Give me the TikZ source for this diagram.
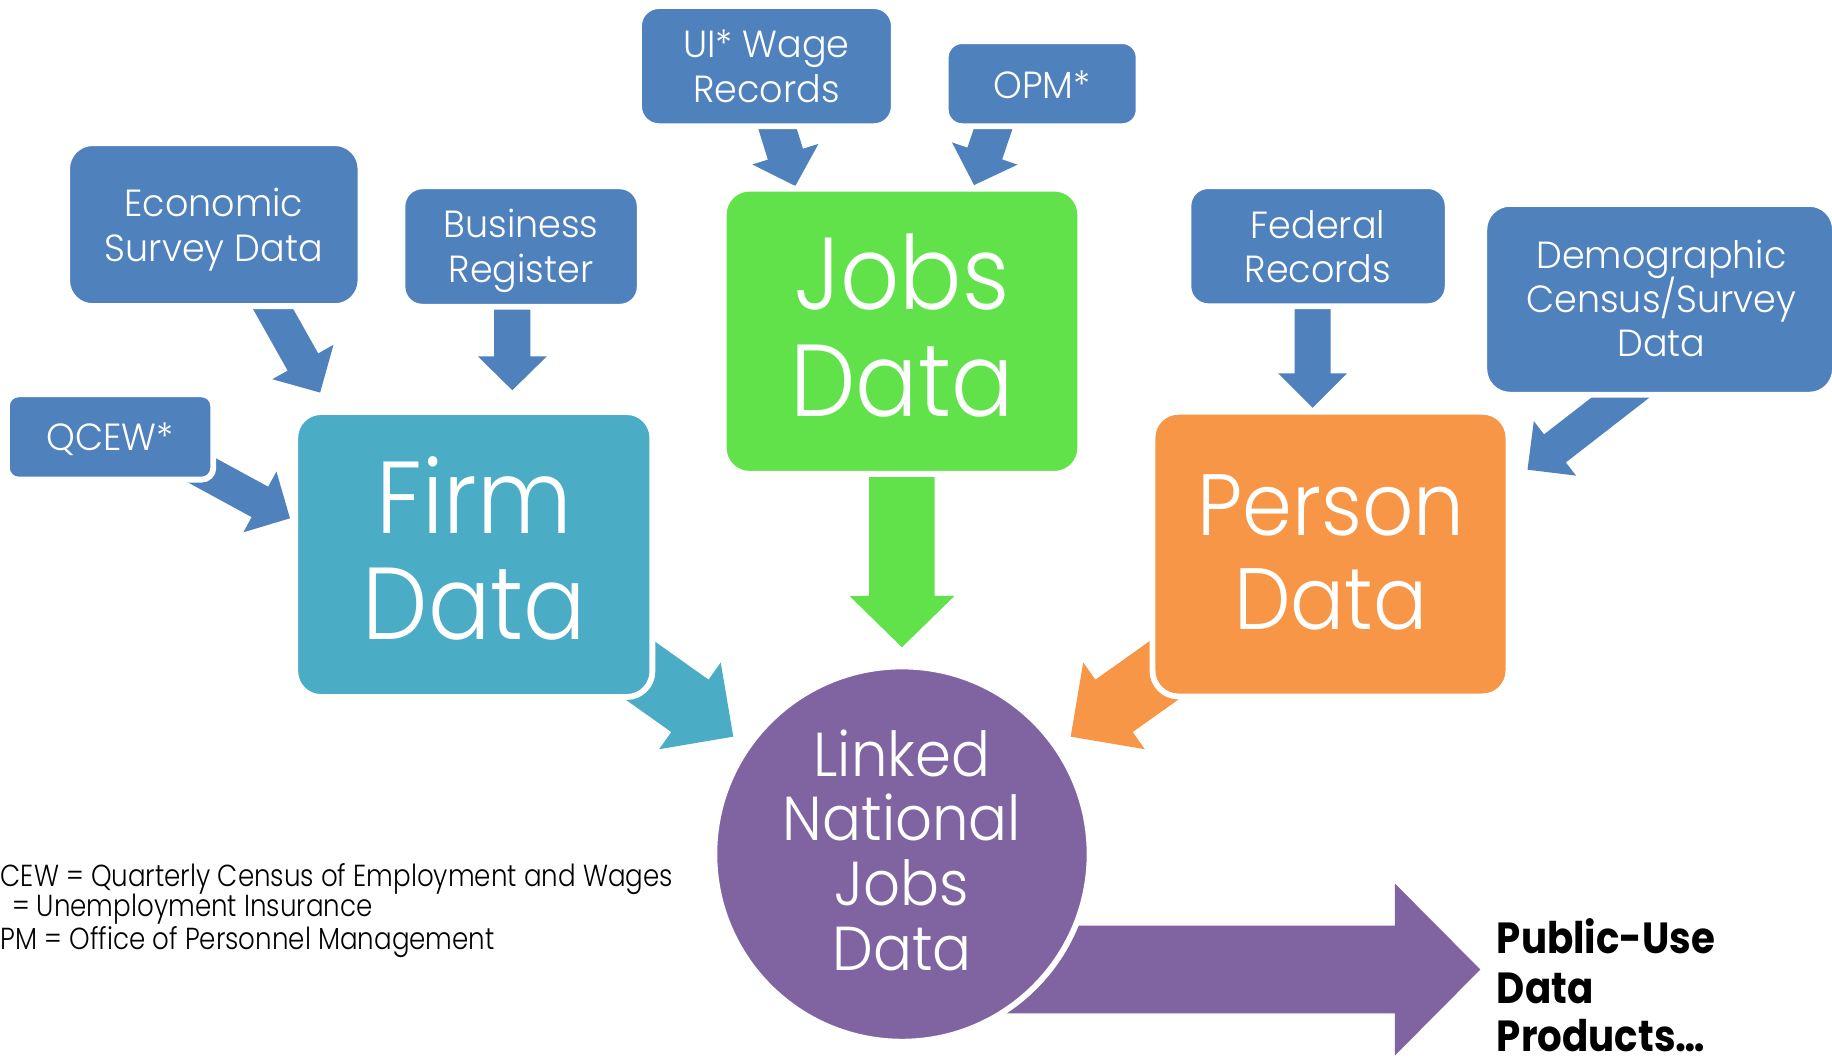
\documentclass[tikz,border=0pt]{standalone}
\usepackage{fontspec}
\setmainfont{Poppins Light}[BoldFont=Poppins Bold]
\newfontfamily\popbig{Poppins Light}[FakeStretch=0.905]
\newfontfamily\popper{Poppins Light}[FakeStretch=0.92]
\newfontfamily\poplink{Poppins Light}[FakeStretch=0.93]
\newfontfamily\popsmall{Poppins Light}[FakeStretch=0.965]
\newfontfamily\popnote{Poppins Light}[FakeStretch=0.86]
\newfontfamily\popbold{Poppins Bold}[FakeStretch=0.89]
\usetikzlibrary{calc}
\definecolor{cblue}{RGB}{79,129,189}
\definecolor{cteal}{RGB}{75,172,198}
\definecolor{cgreen}{RGB}{98,226,74}
\definecolor{corange}{RGB}{247,150,70}
\definecolor{cpurple}{RGB}{128,100,162}
\newcommand{\myfbig}{\popbig\fontsize{24.9pt}{25pt}\selectfont}
\newcommand{\myfper}{\popper\fontsize{21.2pt}{21pt}\selectfont}
\newcommand{\myflink}{\poplink\fontsize{15.1pt}{15pt}\selectfont}
\newcommand{\myfsmall}{\popsmall\fontsize{9.2pt}{9pt}\selectfont}
\newcommand{\myfpub}{\popbold\fontsize{10.6pt}{10pt}\selectfont}
\newcommand{\myfnote}{\popnote\fontsize{7.4pt}{7pt}\selectfont}
% block arrow: #1 from, #2 to, #3 half shaft, #4 half head, #5 head length, #6 colour
\newcommand{\barw}[6]{%
  \coordinate (bh) at ($(#2)!#5!(#1)$);
  \fill[#6] ($(#1)!#3!90:(#2)$) -- ($(bh)!#3!-90:(#1)$) -- ($(bh)!#4!-90:(#1)$) -- (#2)
    -- ($(bh)!#4!90:(#1)$) -- ($(bh)!#3!90:(#1)$) -- ($(#1)!#3!-90:(#2)$) -- cycle;
}
\tikzset{
  boxs/.style={rectangle, draw=white, line width=0.05cm, inner sep=0pt},
  lbl/.style={text=white, inner sep=0pt, anchor=base},
  note/.style={text=black, inner sep=0pt, anchor=base west},
  pub/.style={text=black, inner sep=0pt, anchor=base west},
}
\begin{document}
\begin{tikzpicture}[x=0.01cm,y=-0.01cm]
\useasboundingbox[fill=white] (0,0) rectangle (1568,905.5);

% arrow end points
\coordinate (qA) at (160.4,395.8);  \coordinate (qB) at (248.2,443.6);
\coordinate (eA) at (227.4,253.2);  \coordinate (eB) at (274,336);
\coordinate (bA) at (438.5,250);    \coordinate (bB) at (438.5,334);
\coordinate (uA) at (661.4,97.1);   \coordinate (uB) at (680.7,159.2);
\coordinate (oA) at (854.6,96.8);   \coordinate (oB) at (833.7,158.4);
\coordinate (fA) at (1123.4,250);   \coordinate (fB) at (1123.4,349);
\coordinate (dA) at (1410.1,322.3); \coordinate (dB) at (1307.4,402);
\coordinate (frA) at (529.8,561);   \coordinate (frB) at (627.6,630.5);
\coordinate (peA) at (1014.2,561);  \coordinate (peB) at (916.4,630.5);
\coordinate (jA) at (772,395);      \coordinate (jB) at (772,554);
\coordinate (lA) at (800,829.8);    \coordinate (lB) at (1267,829.8);

% arrows (beneath the boxes)
\barw{qA}{qB}{0.148cm}{0.296cm}{0.293cm}{cblue}
\barw{eA}{eB}{0.15cm}{0.30cm}{0.30cm}{cblue}
\barw{bA}{bB}{0.155cm}{0.295cm}{0.29cm}{cblue}
\barw{uA}{uB}{0.157cm}{0.296cm}{0.285cm}{cblue}
\barw{oA}{oB}{0.157cm}{0.296cm}{0.285cm}{cblue}
\barw{fA}{fB}{0.154cm}{0.295cm}{0.295cm}{cblue}
\barw{dA}{dB}{0.152cm}{0.295cm}{0.297cm}{cblue}
\barw{frA}{frB}{0.275cm}{0.455cm}{0.455cm}{cteal}
\barw{peA}{peB}{0.275cm}{0.455cm}{0.455cm}{corange}
\barw{jA}{jB}{0.28cm}{0.45cm}{0.44cm}{cgreen}
\barw{lA}{lB}{0.375cm}{0.735cm}{0.73cm}{cpurple}

% boxes
\node[boxs, fill=cblue, minimum width=1.766cm, minimum height=0.73cm, rounded corners=0.1cm] (qcew) at (94.2,374) {};
\node[boxs, fill=cblue, minimum width=2.51cm, minimum height=1.395cm, rounded corners=0.22cm] (econ) at (183,192.25) {};
\node[boxs, fill=cblue, minimum width=2.03cm, minimum height=1.03cm, rounded corners=0.17cm] (busi) at (446,211) {};
\node[boxs, fill=cblue, minimum width=2.18cm, minimum height=1.028cm, rounded corners=0.17cm] (uiw) at (656,56.6) {};
\node[boxs, fill=cblue, minimum width=1.65cm, minimum height=0.728cm, rounded corners=0.14cm] (opm) at (892,71.6) {};
\node[boxs, fill=cblue, minimum width=2.218cm, minimum height=1.028cm, rounded corners=0.17cm] (fed) at (1128.1,210.7) {};
\node[boxs, fill=cblue, minimum width=3.0cm, minimum height=1.633cm, rounded corners=0.22cm] (demo) at (1420.5,256.15) {};
\node[boxs, fill=cgreen, minimum width=3.05cm, minimum height=2.44cm, rounded corners=0.22cm] (jobs) at (772,283.5) {};
\node[boxs, fill=cteal, minimum width=3.055cm, minimum height=2.438cm, rounded corners=0.22cm] (firm) at (405.55,474.6) {};
\node[boxs, fill=corange, minimum width=3.045cm, minimum height=2.435cm, rounded corners=0.22cm] (pers) at (1138.75,474.25) {};
\node[circle, draw=white, line width=0.05cm, fill=cpurple, inner sep=0pt, minimum size=3.21cm] (link) at (772,731) {};

% labels
\node[lbl, font=\myfsmall] (t1) at (183,184.9) {Economic};
\node[lbl, font=\myfsmall] (t2) at (183,223.4) {Survey Data};
\node[lbl, font=\myfsmall] (t3) at (446,203.4) {Business};
\node[lbl, font=\myfsmall] (t4) at (446,242) {Register};
\node[lbl, font=\myfsmall] (t5) at (656,49) {UI* Wage};
\node[lbl, font=\myfsmall] (t6) at (656,87.6) {Records};
\node[lbl, font=\myfsmall] (t7) at (892,84.2) {OPM*};
\node[lbl, font=\myfsmall] (t8) at (94.2,385.7) {QCEW*};
\node[lbl, font=\myfsmall] (t9) at (1128,203.9) {Federal};
\node[lbl, font=\myfsmall] (t10) at (1128,241.9) {Records};
\node[lbl, font=\myfsmall] (t11) at (1422,230) {Demographic};
\node[lbl, font=\myfsmall] (t12) at (1422,267.8) {Census/Survey};
\node[lbl, font=\myfsmall] (t13) at (1422,305.5) {Data};
\node[lbl, font=\myfbig] (t14) at (772,265.3) {Jobs};
\node[lbl, font=\myfbig] (t15) at (772,356.6) {Data};
\node[lbl, font=\myfbig] (t16) at (406,456.5) {Firm};
\node[lbl, font=\myfbig] (t17) at (406,547.2) {Data};
\node[lbl, font=\myfper] (t18) at (1139,458.5) {Person};
\node[lbl, font=\myfper] (t19) at (1139,539) {Data};
\node[lbl, font=\myflink] (t20) at (772,664.8) {Linked};
\node[lbl, font=\myflink] (t21) at (772,719.8) {National};
\node[lbl, font=\myflink] (t22) at (772,775.2) {Jobs};
\node[lbl, font=\myflink] (t23) at (772,830.8) {Data};
\node[pub, font=\myfpub] (p1) at (1280.5,816) {Public-Use};
\node[pub, font=\myfpub] (p2) at (1280.5,858.8) {Data};
\node[pub, font=\myfpub] (p3) at (1280.5,900) {Products…};
\node[note, font=\myfnote] (n1) at (0,758.9) {CEW = Quarterly Census of Employment and Wages};
\node[note, font=\myfnote] (n2) at (9.6,784.6) {= Unemployment Insurance};
\node[note, font=\myfnote] (n3) at (0,813) {PM = Office of Personnel Management};
\end{tikzpicture}
\end{document}
